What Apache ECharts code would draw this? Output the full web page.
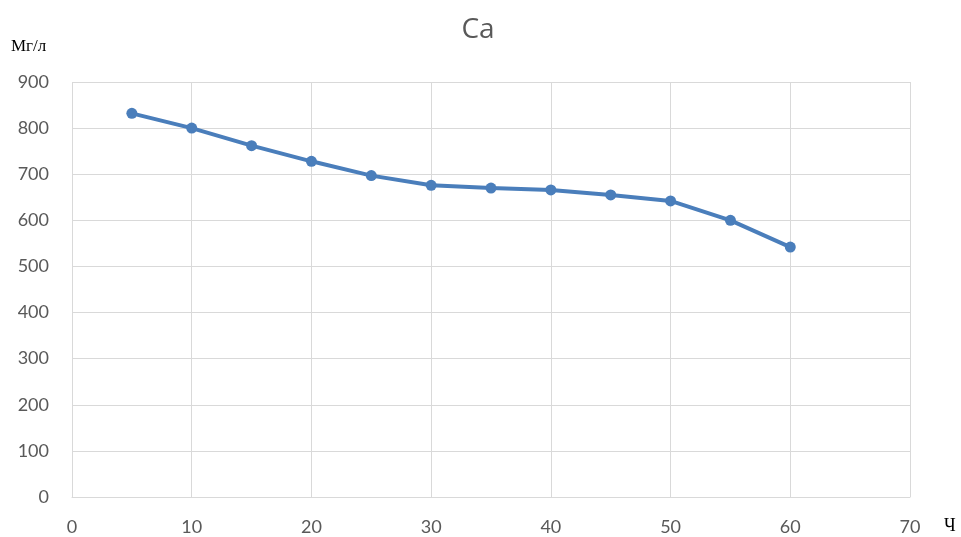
<!DOCTYPE html>
<html><head><meta charset="utf-8">
<script src="https://cdn.jsdelivr.net/npm/echarts@6/dist/echarts.min.js"></script>
<style>html,body{margin:0;padding:0;background:#fff}#c{width:961px;height:537px}</style>
</head><body><div id="c"></div>
<script>
const hours = [5, 10, 15, 20, 25, 30, 35, 40, 45, 50, 55, 60];
const caValues = [832, 800, 762, 728, 697, 676, 670, 666, 655, 642, 600, 542];
const xTicks = [0, 10, 20, 30, 40, 50, 60, 70];
const yTicks = [0, 100, 200, 300, 400, 500, 600, 700, 800, 900];

const chart = echarts.init(document.getElementById('c'));
chart.setOption({
  animation: false,
  backgroundColor: '#ffffff',
  title: {
    text: 'Ca', left: 473, top: 11, textAlign: 'center',
    textStyle: { fontFamily: 'Open Sans', fontWeight: 'normal', fontSize: 28, color: '#595959' }
  },
  graphic: [
    { type: 'text', left: 11, top: 38, style: { text: 'Мг/л', font: '17px "Liberation Serif"', fill: '#000' } },
    { type: 'text', left: 944, top: 517, style: { text: 'Ч', font: '18px "Liberation Serif"', fill: '#000' } }
  ],
  grid: { left: 72, right: 51, top: 82, bottom: 40 },
  xAxis: {
    type: 'value', min: xTicks[0], max: xTicks[xTicks.length - 1], interval: 10,
    axisLine: { show: true, lineStyle: { color: '#d9d9d9', width: 1 } },
    axisTick: { show: false },
    axisLabel: { margin: 21, fontFamily: 'Lato', fontSize: 18, color: '#595959' },
    splitLine: { show: true, lineStyle: { color: '#d9d9d9', width: 1 } }
  },
  yAxis: {
    type: 'value', min: yTicks[0], max: yTicks[yTicks.length - 1], interval: 100,
    axisLine: { show: false },
    axisTick: { show: false },
    axisLabel: { margin: 23, fontFamily: 'Lato', fontSize: 18, color: '#595959' },
    splitLine: { show: true, lineStyle: { color: '#d9d9d9', width: 1 } }
  },
  series: [{
    type: 'line',
    data: hours.map((h, i) => [h, caValues[i]]),
    symbol: 'circle', symbolSize: 11,
    lineStyle: { color: '#4a7ebb', width: 4 },
    itemStyle: { color: '#4a7ebb' }
  }]
});
</script></body></html>
